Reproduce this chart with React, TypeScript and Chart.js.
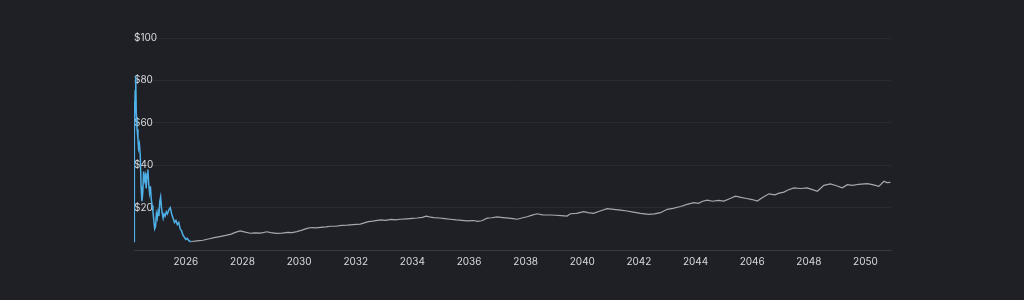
import React, { useEffect, useRef } from "react";
import { Chart, registerables } from "chart.js";

Chart.register(...registerables);

const historyYears = [
  2024.17, 2024.175, 2024.19, 2024.21, 2024.23, 2024.25, 2024.28, 2024.31, 2024.33, 2024.36,
  2024.39, 2024.42, 2024.45, 2024.48, 2024.51, 2024.54, 2024.57, 2024.6, 2024.63, 2024.66,
  2024.69, 2024.72, 2024.75, 2024.78, 2024.81, 2024.84, 2024.87, 2024.9, 2024.93, 2024.96,
  2024.99, 2025.02, 2025.05, 2025.08, 2025.11, 2025.14, 2025.17, 2025.2, 2025.23, 2025.27,
  2025.31, 2025.35, 2025.4, 2025.45, 2025.5, 2025.55, 2025.6, 2025.65, 2025.7, 2025.75,
  2025.8, 2025.85, 2025.9, 2025.95, 2026.0, 2026.05, 2026.1, 2026.15, 2026.2,
];
const historyPrices = [
  4, 70, 55, 75, 82, 65, 57, 52, 48, 50,
  45, 30, 23, 27, 37, 33, 35, 29, 36, 38,
  31, 27, 30, 24, 21, 18, 14, 10, 11, 17,
  15, 18, 16, 23, 25, 20, 17, 15, 17, 16,
  18, 17, 19, 20, 17, 15, 13, 14, 12, 13,
  10, 9, 7, 6, 5, 5.5, 4.5, 4, 4,
];

const forecastYears = [
  2026.2, 2026.4, 2026.6, 2026.8, 2027.0, 2027.2, 2027.45, 2027.6, 2027.75, 2027.92,
  2028.1, 2028.27, 2028.45, 2028.65, 2028.86, 2029.0, 2029.2, 2029.4, 2029.6, 2029.75,
  2029.92, 2030.1, 2030.28, 2030.45, 2030.6, 2030.75, 2030.95, 2031.1, 2031.3, 2031.5,
  2031.7, 2031.9, 2032.16, 2032.3, 2032.45, 2032.6, 2032.87, 2033.05, 2033.25, 2033.4,
  2033.57, 2033.8, 2034.0, 2034.16, 2034.35, 2034.49, 2034.6, 2034.75, 2034.95, 2035.15,
  2035.34, 2035.55, 2035.75, 2035.93, 2036.15, 2036.3, 2036.45, 2036.64, 2036.8, 2036.99,
  2037.2, 2037.4, 2037.55, 2037.7, 2037.9, 2038.05, 2038.2, 2038.4, 2038.6, 2038.87,
  2039.05, 2039.25, 2039.46, 2039.58, 2039.8, 2040.05, 2040.2, 2040.4, 2040.6, 2040.88,
  2041.1, 2041.35, 2041.58, 2041.8, 2042.05, 2042.35, 2042.55, 2042.76, 2043.0, 2043.2,
  2043.47, 2043.7, 2043.94, 2044.1, 2044.25, 2044.41, 2044.6, 2044.8, 2045.0, 2045.2,
  2045.41, 2045.6, 2045.8, 2046.0, 2046.18, 2046.35, 2046.59, 2046.8, 2046.95, 2047.12,
  2047.24, 2047.47, 2047.7, 2047.94, 2048.1, 2048.3, 2048.53, 2048.76, 2048.95, 2049.18,
  2049.36, 2049.55, 2049.75, 2050.06, 2050.25, 2050.47, 2050.65, 2050.75, 2050.88,
];
const forecastPrices = [
  4.0, 4.3, 4.6, 5.2, 5.8, 6.3, 7.0, 7.5, 8.3, 9.0,
  8.4, 7.9, 8.1, 8.0, 8.6, 8.2, 7.8, 8.0, 8.3, 8.2,
  8.7, 9.4, 10.2, 10.6, 10.4, 10.7, 10.9, 11.2, 11.2, 11.6,
  11.7, 12.0, 12.2, 12.8, 13.4, 13.6, 14.2, 14.0, 14.4, 14.2,
  14.5, 14.7, 14.9, 15.1, 15.4, 16.0, 15.6, 15.3, 15.1, 14.8,
  14.5, 14.2, 14.0, 13.7, 13.9, 13.5, 13.8, 15.0, 15.2, 15.6,
  15.3, 15.0, 14.8, 14.5, 15.2, 15.7, 16.3, 17.1, 16.6, 16.5,
  16.4, 16.2, 16.0, 17.1, 17.3, 18.1, 17.6, 17.3, 18.3, 19.5,
  19.2, 18.8, 18.4, 17.9, 17.3, 16.8, 17.0, 17.6, 19.2, 19.6,
  20.5, 21.5, 22.3, 22.0, 23.0, 23.5, 23.0, 23.4, 23.1, 24.2,
  25.4, 24.8, 24.3, 23.8, 23.1, 24.6, 26.5, 26.0, 26.8, 27.3,
  28.2, 29.3, 29.0, 29.3, 28.6, 27.7, 30.5, 31.2, 30.4, 29.3,
  30.8, 30.5, 31.0, 31.3, 30.8, 30.0, 32.4, 31.8, 31.9,
];

const xTickYears = [2026, 2028, 2030, 2032, 2034, 2036, 2038, 2040, 2042, 2044, 2046, 2048, 2050];
const yTickValues = [0, 20, 40, 60, 80, 100];

export default function App() {
  const canvasRef = useRef<HTMLCanvasElement>(null);

  useEffect(() => {
    document.body.style.margin = "0";
    document.body.style.background = "#1f2026";
    const canvas = canvasRef.current;
    if (!canvas) return;
    const chart = new Chart(canvas, {
      type: "line",
      data: {
        datasets: [
          {
            data: historyYears.map((x, i) => ({ x, y: historyPrices[i] })),
            borderColor: "#4fb0e8",
            borderWidth: 1.5,
            pointRadius: 0,
            tension: 0,
          },
          {
            data: forecastYears.map((x, i) => ({ x, y: forecastPrices[i] })),
            borderColor: "#a7a8ae",
            borderWidth: 1.2,
            pointRadius: 0,
            tension: 0,
          },
        ],
      },
      options: {
        animation: false,
        responsive: true,
        maintainAspectRatio: false,
        layout: { padding: { left: 134, right: 133, top: 38, bottom: 34 } },
        plugins: { legend: { display: false }, tooltip: { enabled: false } },
        scales: {
          x: {
            type: "linear",
            min: 2024.17,
            max: 2050.9,
            afterBuildTicks: (axis: any) => {
              axis.ticks = xTickYears.map((v) => ({ value: v }));
            },
            ticks: {
              color: "#d8d9dd",
              font: { family: "Inter", size: 10 },
              maxRotation: 0,
              padding: -2,
              callback: (v: any) => String(v),
            },
            grid: { display: false },
            border: { display: true, color: "rgba(255,255,255,0.08)" },
          },
          y: {
            min: 0,
            max: 100,
            afterBuildTicks: (axis: any) => {
              axis.ticks = yTickValues.map((v) => ({ value: v }));
            },
            ticks: {
              mirror: true,
              color: "#d8d9dd",
              font: { family: "Inter", size: 10 },
              padding: 0,
              callback: (v: any) => (v === 0 ? "" : "$" + v),
            },
            grid: { color: "rgba(255,255,255,0.05)", drawTicks: false },
            border: { display: false },
          },
        },
      },
    });
    return () => chart.destroy();
  }, []);

  return (
    <div style={{ position: "relative", width: 1024, height: 300 }}>
      <canvas ref={canvasRef} />
    </div>
  );
}
